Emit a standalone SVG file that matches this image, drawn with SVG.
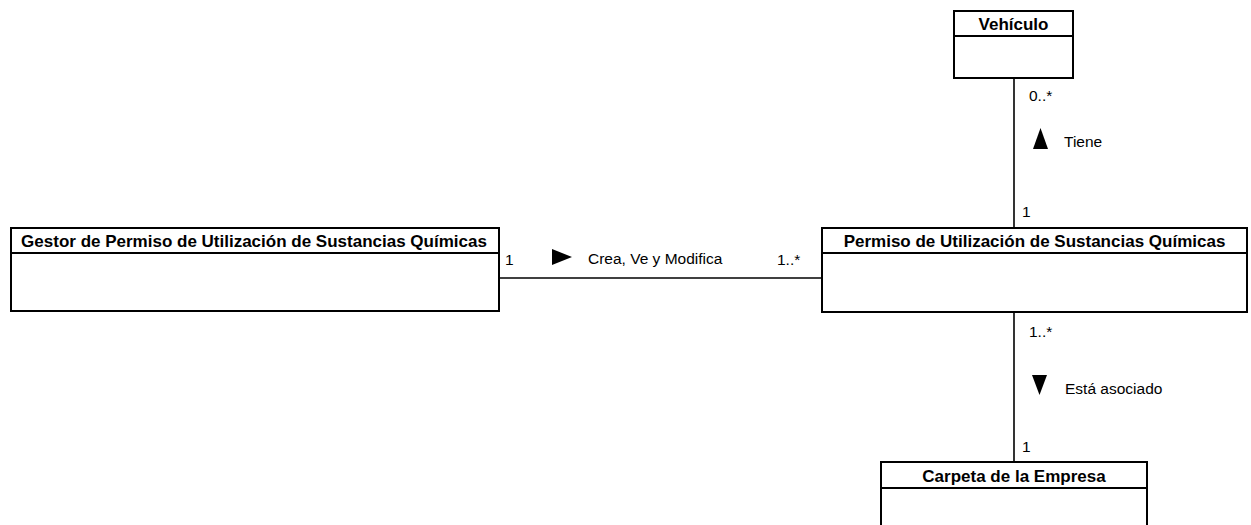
<svg xmlns="http://www.w3.org/2000/svg" width="1251" height="525" viewBox="0 0 1251 525">
  <style>
    .box { fill: #ffffff; stroke: #000000; stroke-width: 2; }
    .sep { stroke: #000000; stroke-width: 2; }
    .title { font-family: "Liberation Sans", Arial, sans-serif; font-weight: bold; font-size: 17px; text-anchor: middle; fill: #000; }
    .lbl { font-family: "Liberation Sans", Arial, sans-serif; font-size: 15.5px; fill: #000; }
    .edge { stroke: #000000; stroke-width: 1.6; fill: none; }
    .dir { fill: #000000; }
  </style>
  <rect width="1251" height="525" fill="#ffffff"/>

  <g id="connectors">
    <line class="edge" x1="1014" y1="78" x2="1014" y2="228"/>
    <line class="edge" x1="499" y1="278" x2="822" y2="278"/>
    <line class="edge" x1="1014" y1="312" x2="1014" y2="462"/>
    <!-- multiplicities and role names -->
    <text class="lbl" x="1029" y="101">0..*</text>
    <polygon class="dir" points="1033,149 1040.5,128 1048,149"/>
    <text class="lbl" x="1064" y="147">Tiene</text>
    <text class="lbl" x="1022" y="217">1</text>

    <text class="lbl" x="505" y="265">1</text>
    <polygon class="dir" points="552,249 572,257 552,265"/>
    <text class="lbl" x="588" y="264">Crea, Ve y Modifica</text>
    <text class="lbl" x="777" y="265">1..*</text>

    <text class="lbl" x="1029" y="337">1..*</text>
    <polygon class="dir" points="1032,375 1047,375 1039.5,395"/>
    <text class="lbl" x="1065" y="394">Está asociado</text>
    <text class="lbl" x="1022" y="452">1</text>
  </g>

  <g id="vehiculo">
    <rect class="box" x="954" y="11" width="119" height="67"/>
    <line class="sep" x1="954" y1="36" x2="1073" y2="36"/>
    <text class="title" x="1013.5" y="30">Vehículo</text>
  </g>

  <g id="gestor">
    <rect class="box" x="11" y="228" width="488" height="83"/>
    <line class="sep" x1="11" y1="253" x2="499" y2="253"/>
    <text class="title" x="254" y="247">Gestor de Permiso de Utilización de Sustancias Químicas</text>
  </g>

  <g id="permiso">
    <rect class="box" x="822" y="228" width="425" height="84"/>
    <line class="sep" x1="822" y1="253" x2="1247" y2="253"/>
    <text class="title" x="1034.5" y="247">Permiso de Utilización de Sustancias Químicas</text>
  </g>

  <g id="carpeta">
    <rect class="box" x="881" y="462" width="266" height="80"/>
    <line class="sep" x1="881" y1="488" x2="1147" y2="488"/>
    <text class="title" x="1014" y="482">Carpeta de la Empresa</text>
  </g>
</svg>
